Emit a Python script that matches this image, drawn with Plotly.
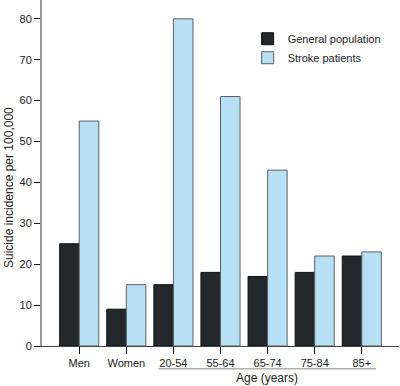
import plotly.graph_objects as go

categories = ["Men", "Women", "20-54", "55-64", "65-74", "75-84", "85+"]
general_population = [25, 9, 15, 18, 17, 18, 22]
stroke_patients = [55, 15, 80, 61, 43, 22, 23]
y_ticks = [0, 10, 20, 30, 40, 50, 60, 70, 80]

FONT = "Liberation Sans, Arial, sans-serif"

fig = go.Figure()
fig.add_trace(go.Bar(
    x=categories, y=general_population, name="General population",
    marker=dict(color="#22282b", line=dict(color="#111111", width=1)),
))
fig.add_trace(go.Bar(
    x=categories, y=stroke_patients, name="Stroke patients",
    marker=dict(color="#b8e0f5", line=dict(color="#5a6066", width=1)),
))

fig.update_layout(
    width=400, height=386,
    margin=dict(l=42, r=1, t=0, b=40),
    paper_bgcolor="white", plot_bgcolor="white",
    barmode="group", bargap=0.17, bargroupgap=0,
    font=dict(family=FONT, size=11, color="#222222"),
    showlegend=True,
    legend=dict(
        x=0.576, y=0.93, xanchor="left", yanchor="top",
        font=dict(family=FONT, size=11, color="#222222"),
        bgcolor="rgba(0,0,0,0)", tracegroupgap=0, itemwidth=30,
    ),
    xaxis=dict(
        range=[-0.79, 6.79], showgrid=False, zeroline=False,
        showline=True, linecolor="#444444", linewidth=1,
        ticks="outside", ticklen=7, tickcolor="#111111", tickwidth=1,
        tickfont=dict(size=11, color="#222222"),
    ),
    yaxis=dict(
        range=[0, 84.6], showgrid=False, zeroline=False,
        showline=True, linecolor="#999999", linewidth=2,
        tickvals=y_ticks, ticks="outside", ticklen=6,
        tickcolor="#111111", tickwidth=1,
        tickfont=dict(size=11, color="#222222"),
    ),
)

fig.add_shape(type="line", xref="x", yref="paper",
              x0=1.68, x1=6.3, y0=-0.066, y1=-0.066,
              line=dict(color="#888888", width=1))
fig.add_annotation(text="Age (years)", xref="x", yref="paper",
                   x=3.98, y=-0.093, showarrow=False,
                   xanchor="center", yanchor="middle",
                   font=dict(size=12, color="#222222"))
fig.add_annotation(text="Suicide incidence per 100,000", xref="paper", yref="paper",
                   x=-0.092, y=0.457, showarrow=False, textangle=-90,
                   xanchor="center", yanchor="middle",
                   font=dict(size=12, color="#222222"))

fig.write_html("out.html", config={"displayModeBar": False},
               post_script="document.body.style.margin='0';document.body.style.overflow='hidden';")
